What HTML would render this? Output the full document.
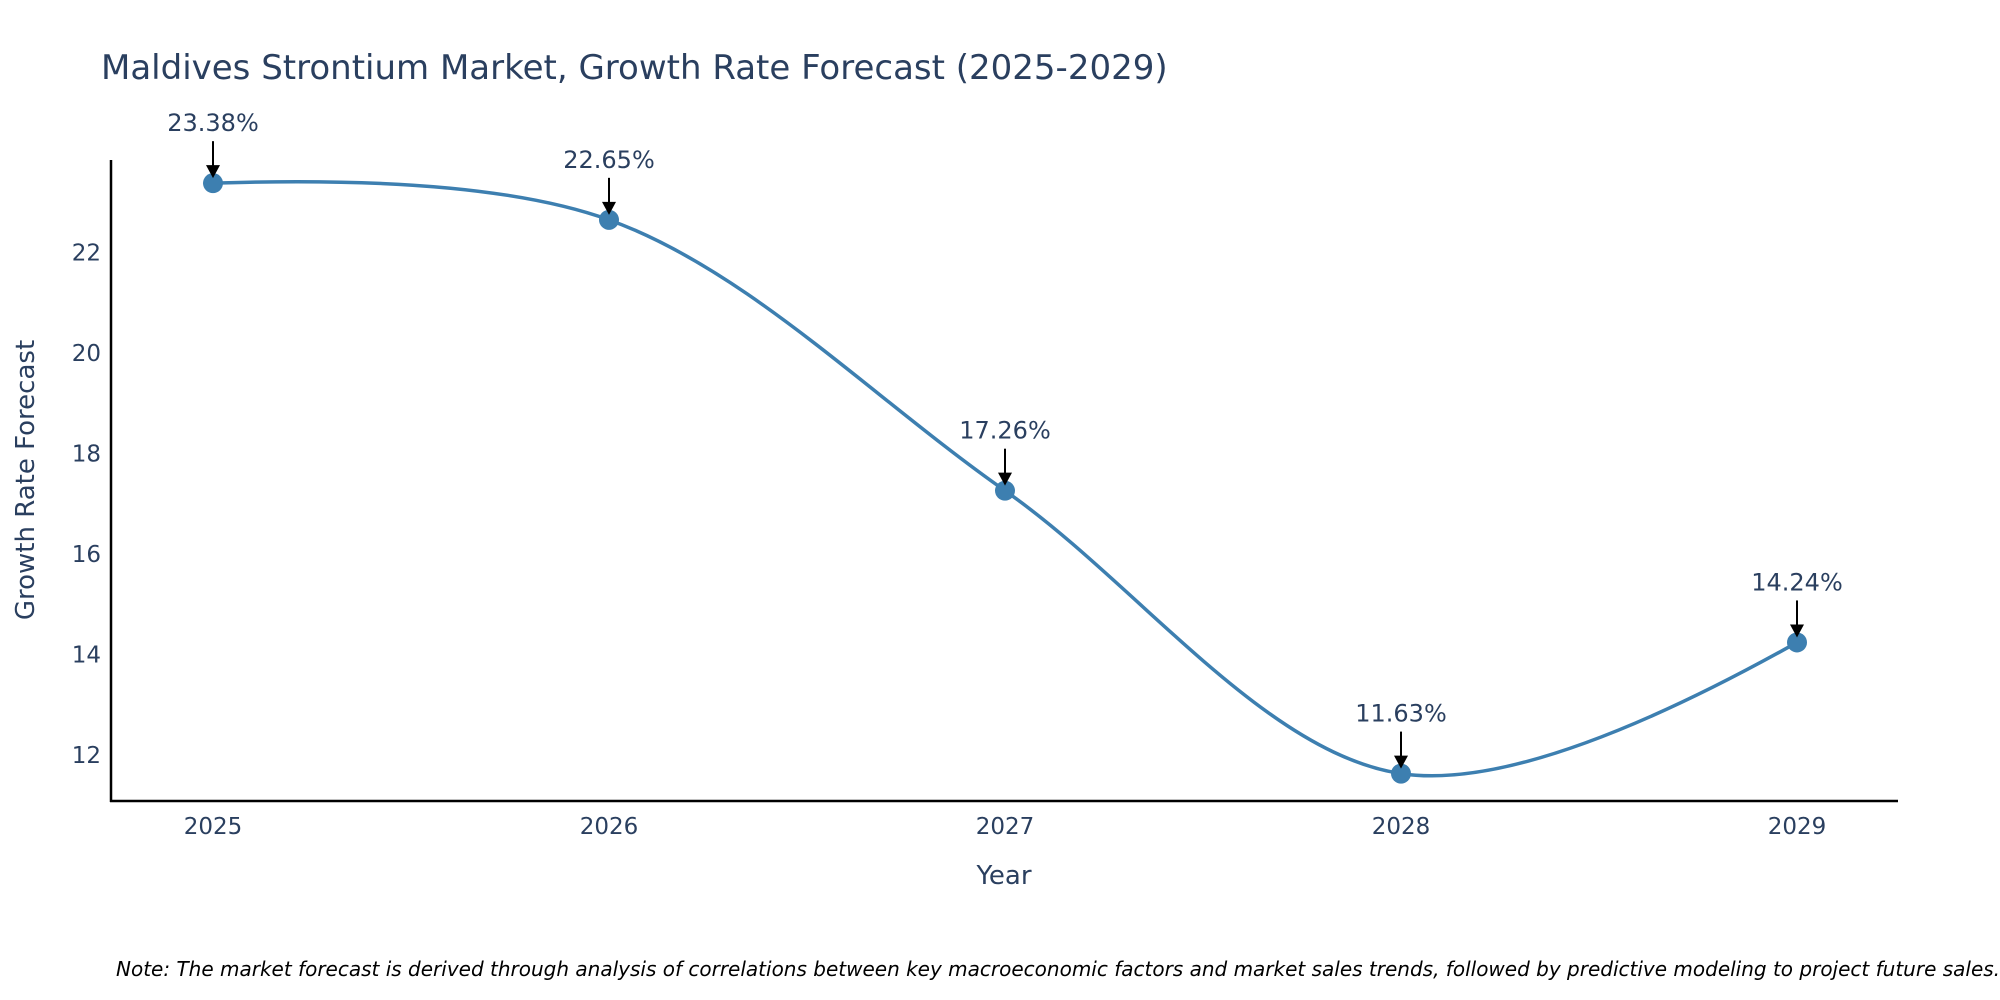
<!DOCTYPE html>
<html><head><meta charset="utf-8"><style>
html,body{margin:0;padding:0;background:#fff;width:2000px;height:1000px;overflow:hidden}
svg{display:block}
text{font-family:"DejaVu Sans",sans-serif}
</style></head><body>
<svg id="chart" width="2000" height="1000">
<text x="101" y="79" font-size="34" fill="#2a3f5f">Maldives Strontium Market, Growth Rate Forecast (2025-2029)</text>
<g id="yticks"></g><g id="xticks"></g>
<line x1="111" y1="160" x2="111" y2="802" stroke="#000" stroke-width="2.5"/>
<line x1="110" y1="801" x2="1898" y2="801" stroke="#000" stroke-width="2.5"/>
<text x="1004" y="884" font-size="26" fill="#2a3f5f" text-anchor="middle">Year</text>
<text transform="translate(34,480) rotate(-90)" font-size="26" fill="#2a3f5f" text-anchor="middle">Growth Rate Forecast</text>
<path id="line" fill="none" stroke="#3d7fb0" stroke-width="3.5"/>
<g id="marks"></g>
<text x="116" y="976" font-size="20" font-style="italic" fill="#000">Note: The market forecast is derived through analysis of correlations between key macroeconomic factors and market sales trends, followed by predictive modeling to project future sales.</text>
</svg>
<script>
const years = [2025, 2026, 2027, 2028, 2029];
const values = [23.38, 22.65, 17.26, 11.63, 14.24];
const yTicks = [12, 14, 16, 18, 20, 22];
const NS = "http://www.w3.org/2000/svg";
function xs(i){ return 213 + (1797-213) * i / (years.length-1); }
function ys(v){ return 755 - (v-12) * (755-252.5) / 10; }
function mk(tag, attrs, parent){ const e=document.createElementNS(NS,tag); for(const k in attrs) e.setAttribute(k,attrs[k]); parent.appendChild(e); return e; }
const yg=document.getElementById('yticks'), xg=document.getElementById('xticks'), mg=document.getElementById('marks');
yTicks.forEach(t=>{
  const e=mk('text',{x:101,y:ys(t)+8,'font-size':23,fill:'#2a3f5f','text-anchor':'end'},yg);
  
  
  e.textContent=t;
});
years.forEach((y,i)=>{
  const e=mk('text',{x:xs(i),y:834,'font-size':23,fill:'#2a3f5f','text-anchor':'middle'},xg);
  
  
  e.textContent=y;
});
const pts=values.map((v,i)=>[xs(i),ys(v)]);
function tangent(p,t,n,s){
  const d1x=p[0]-t[0],d1y=p[1]-t[1],d2x=n[0]-t[0],d2y=n[1]-t[1];
  const d1a=Math.pow(d1x*d1x+d1y*d1y,0.25),d2a=Math.pow(d2x*d2x+d2y*d2y,0.25);
  const nx=(d2a*d2a*d1x-d1a*d1a*d2x)*s,ny=(d2a*d2a*d1y-d1a*d1a*d2y)*s;
  const a=3*d2a*(d1a+d2a),b=3*d1a*(d1a+d2a);
  return [[t[0]+nx/a,t[1]+ny/a],[t[0]-nx/b,t[1]-ny/b]];
}
const tg=[];for(let i=1;i<pts.length-1;i++)tg.push(tangent(pts[i-1],pts[i],pts[i+1],1));
let d='M'+pts[0]+'Q'+tg[0][0]+' '+pts[1];
for(let i=2;i<pts.length-1;i++)d+='C'+tg[i-2][1]+' '+tg[i-1][0]+' '+pts[i];
d+='Q'+tg[pts.length-3][1]+' '+pts[pts.length-1];
document.getElementById('line').setAttribute('d',d);
pts.forEach((p,i)=>{
  const c=mk('circle',{cx:p[0],cy:p[1],r:10,fill:'#3d7fb0'},mg);
  
  
  const l=mk('line',{x1:p[0],y1:p[1]-42,x2:p[0],y2:p[1]-16,stroke:'#000','stroke-width':2},mg);
  
  
  const h=mk('polygon',{points:`${p[0]-7},${p[1]-18} ${p[0]+7},${p[1]-18} ${p[0]},${p[1]-5}`,fill:'#000'},mg);
  
  
  const t=mk('text',{x:p[0],y:p[1]-52,'font-size':24,fill:'#2a3f5f','text-anchor':'middle'},mg);
  
  
  t.textContent=values[i].toFixed(2)+'%';
});
</script>
</body></html>
